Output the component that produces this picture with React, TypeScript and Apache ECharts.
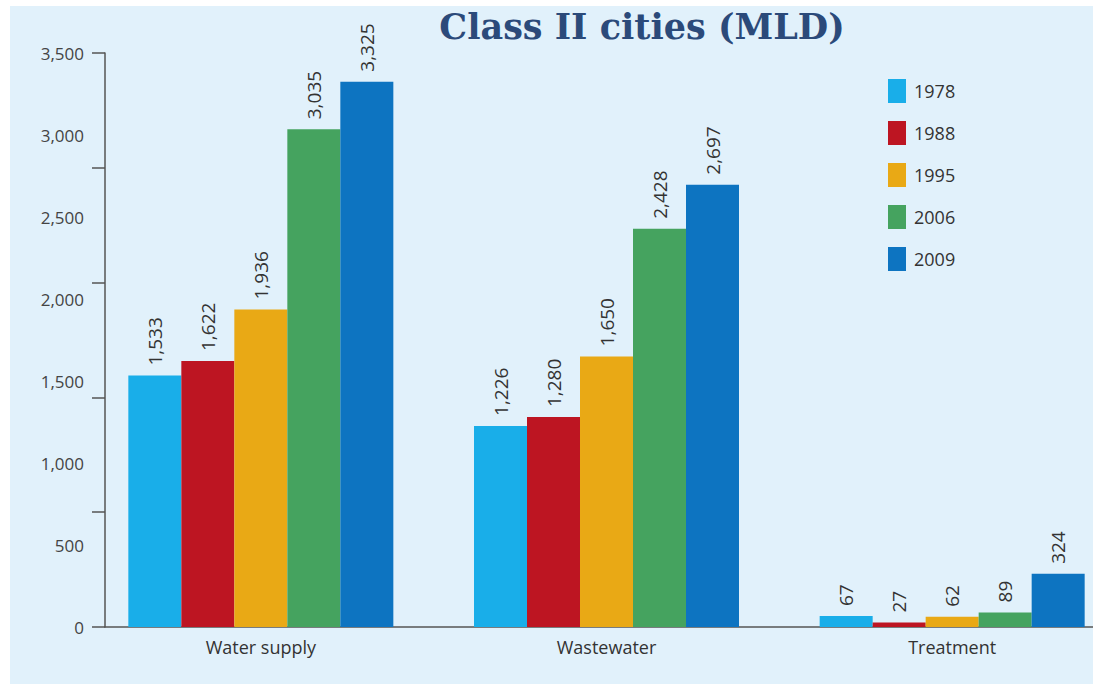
import React, { useEffect, useRef } from "react";
import * as echarts from "echarts";

const categories = ["Water supply", "Wastewater", "Treatment"];
const years = ["1978", "1988", "1995", "2006", "2009"];
const v1978 = [1533, 1226, 67];
const v1988 = [1622, 1280, 27];
const v1995 = [1936, 1650, 62];
const v2006 = [3035, 2428, 89];
const v2009 = [3325, 2697, 324];
const seriesValues = [v1978, v1988, v1995, v2006, v2009];
const colors = ["#19aee9", "#bd1522", "#e9a915", "#45a35f", "#0d74c1"];
const yMin = 0;
const yMax = 3500;
const labelStep = 500;
const tickStep = 700;

const fmt = (n: number) => String(n).replace(/\B(?=(\d{3})+(?!\d))/g, ",");

export default function App() {
  const ref = useRef<HTMLDivElement>(null);
  useEffect(() => {
    if (!ref.current) return;
    const chart = echarts.init(ref.current, undefined, { renderer: "svg" });
    const font = "'Open Sans', sans-serif";
    chart.setOption({
      animation: false,
      backgroundColor: "#ffffff",
      title: {
        text: "Class II cities (MLD)",
        left: 637,
        top: 4,
        textAlign: "center",
        textStyle: {
          fontFamily: "'DejaVu Serif', serif",
          fontWeight: "bold",
          fontSize: 35,
          color: "#2b4a7a",
        },
      },
      graphic: [
        {
          type: "rect",
          z: -10,
          silent: true,
          shape: { x: 10, y: 6, width: 1200, height: 678 },
          style: { fill: "#e1f1fb" },
        },
      ],
      legend: {
        data: years,
        orient: "vertical",
        left: 883,
        top: 74,
        itemWidth: 18,
        itemHeight: 24,
        itemGap: 18,
        icon: "rect",
        textStyle: { fontFamily: font, fontSize: 18, color: "#333", padding: [0, 0, 0, 3] },
      },
      grid: [
        { left: 105, top: 53, height: 574, width: 1030 },
        { left: 88, top: 53, height: 574, width: 1037 },
      ],
      xAxis: [
        {
          gridIndex: 0,
          type: "value",
          min: 0,
          max: 1,
          axisLine: { show: true, lineStyle: { color: "#555", width: 1.5 } },
          axisTick: { show: false },
          axisLabel: { show: false },
          splitLine: { show: false },
        },
        {
          gridIndex: 1,
          type: "category",
          data: categories,
          axisLine: { show: false },
          axisTick: { show: false },
          axisLabel: { margin: 11, fontFamily: font, fontSize: 18, color: "#333" },
        },
      ],
      yAxis: [
        {
          gridIndex: 0,
          type: "value",
          position: "left",
          min: yMin,
          max: yMax,
          interval: labelStep,
          axisLine: { show: false },
          axisTick: { show: false },
          splitLine: { show: false },
          axisLabel: {
            margin: 21,
            fontFamily: font,
            fontSize: 17,
            color: "#444",
            formatter: (v: number) => fmt(v),
          },
        },
        {
          gridIndex: 0,
          type: "value",
          position: "left",
          offset: 0,
          min: yMin,
          max: yMax,
          interval: tickStep,
          axisLine: { show: true, lineStyle: { color: "#555", width: 1.5 } },
          axisTick: { show: true, length: 13, lineStyle: { color: "#555", width: 1.5 } },
          axisLabel: { show: false },
          splitLine: { show: false },
        },
        {
          gridIndex: 1,
          type: "value",
          min: yMin,
          max: yMax,
          show: false,
          splitLine: { show: false },
        },
      ],
      series: years.map((y, i) => ({
        name: y,
        type: "bar",
        xAxisIndex: 1,
        yAxisIndex: 2,
        data: seriesValues[i],
        barWidth: 53,
        barGap: "0%",
        itemStyle: { color: colors[i] },
        label: {
          show: true,
          position: "top",
          rotate: 90,
          align: "left",
          verticalAlign: "middle",
          distance: 10,
          fontFamily: font,
          fontSize: 19,
          color: "#333",
          formatter: (p: any) => fmt(p.value),
        },
      })),
    });
    return () => chart.dispose();
  }, []);
  return (
    <div
      style={{
        position: "fixed",
        left: 0,
        top: 0,
        width: 1093,
        height: 684,
        overflow: "hidden",
      }}
    >
      <div ref={ref} style={{ width: 1140, height: 684 }} />
    </div>
  );
}
